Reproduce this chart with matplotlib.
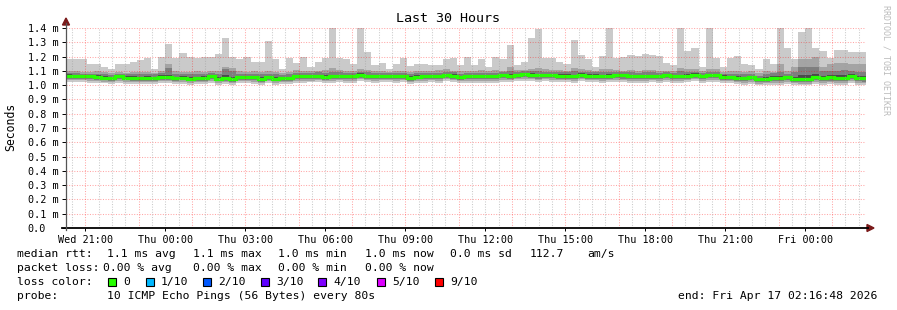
import datetime as dt
import numpy as np
import matplotlib
matplotlib.use("Agg")
import matplotlib.pyplot as plt
from matplotlib.patches import Polygon, Rectangle

W, H = 897, 310
MONO = "DejaVu Sans Mono"

# time frame of the graph
graph_start = dt.datetime(2026, 4, 15, 20, 16, 48)
graph_hours = 30
first_bin = dt.datetime(2026, 4, 15, 20, 16, 0)
step_minutes = 16

# smoke data (ms), 10 pings per step, sorted: min, p2, p3, p4, median, p7, p8, p9, max
rtt_max = [1.185, 1.185, 1.185, 1.15, 1.15, 1.13, 1.11, 1.145, 1.15, 1.165,
           1.175, 1.19, 1.115, 1.2, 1.285, 1.19, 1.225, 1.195, 1.19, 1.195,
           1.2, 1.22, 1.33, 1.195, 1.18, 1.195, 1.165, 1.165, 1.31, 1.185,
           1.11, 1.19, 1.155, 1.2, 1.13, 1.165, 1.19, 1.4, 1.19, 1.185,
           1.145, 1.4, 1.23, 1.138, 1.155, 1.11, 1.145, 1.19, 1.135, 1.15,
           1.15, 1.14, 1.14, 1.185, 1.19, 1.14, 1.2, 1.14, 1.18, 1.125,
           1.2, 1.185, 1.283, 1.14, 1.165, 1.33, 1.39, 1.19, 1.19, 1.165,
           1.15, 1.318, 1.21, 1.185, 1.125, 1.205, 1.4, 1.19, 1.2, 1.21,
           1.205, 1.22, 1.21, 1.205, 1.155, 1.14, 1.4, 1.238, 1.26, 1.125,
           1.4, 1.19, 1.125, 1.19, 1.205, 1.145, 1.14, 1.112, 1.185, 1.145,
           1.4, 1.26, 1.18, 1.37, 1.4, 1.26, 1.238, 1.19, 1.245, 1.245,
           1.23, 1.235, 1.235]
rtt_p9 = [1.10, 1.10, 1.095, 1.09, 1.10, 1.09, 1.085, 1.09, 1.085, 1.09,
          1.09, 1.095, 1.085, 1.10, 1.15, 1.10, 1.095, 1.095, 1.10, 1.095,
          1.10, 1.10, 1.13, 1.12, 1.10, 1.095, 1.10, 1.095, 1.10, 1.09,
          1.085, 1.09, 1.105, 1.10, 1.10, 1.10, 1.105, 1.12, 1.105, 1.10,
          1.10, 1.115, 1.105, 1.10, 1.10, 1.095, 1.10, 1.10, 1.09, 1.10,
          1.10, 1.10, 1.105, 1.11, 1.10, 1.10, 1.10, 1.10, 1.105, 1.10,
          1.105, 1.10, 1.13, 1.105, 1.105, 1.115, 1.12, 1.11, 1.105, 1.105,
          1.10, 1.12, 1.11, 1.105, 1.10, 1.11, 1.11, 1.105, 1.10, 1.105,
          1.10, 1.105, 1.105, 1.10, 1.10, 1.10, 1.12, 1.11, 1.11, 1.10,
          1.115, 1.11, 1.095, 1.10, 1.10, 1.095, 1.10, 1.085, 1.10, 1.095,
          1.145, 1.10, 1.125, 1.18, 1.18, 1.195, 1.13, 1.15, 1.155, 1.155,
          1.15, 1.15, 1.15]
rtt_p8 = [1.085, 1.085, 1.08, 1.08, 1.08, 1.075, 1.07, 1.08, 1.075, 1.075,
          1.075, 1.075, 1.075, 1.085, 1.12, 1.08, 1.08, 1.075, 1.075, 1.08,
          1.085, 1.075, 1.11, 1.10, 1.08, 1.08, 1.08, 1.075, 1.08, 1.075,
          1.07, 1.075, 1.085, 1.085, 1.085, 1.09, 1.085, 1.095, 1.09, 1.085,
          1.085, 1.095, 1.09, 1.085, 1.085, 1.085, 1.085, 1.085, 1.075, 1.085,
          1.085, 1.085, 1.085, 1.095, 1.09, 1.08, 1.085, 1.085, 1.085, 1.085,
          1.085, 1.09, 1.10, 1.095, 1.10, 1.10, 1.10, 1.095, 1.09, 1.09,
          1.09, 1.10, 1.095, 1.09, 1.09, 1.09, 1.095, 1.09, 1.09, 1.09,
          1.085, 1.09, 1.09, 1.085, 1.09, 1.085, 1.10, 1.09, 1.095, 1.085,
          1.095, 1.09, 1.08, 1.08, 1.075, 1.075, 1.08, 1.065, 1.075, 1.085,
          1.095, 1.08, 1.09, 1.125, 1.125, 1.125, 1.10, 1.10, 1.10, 1.105,
          1.10, 1.095, 1.095]
rtt_p7 = [1.078, 1.074, 1.072, 1.072, 1.068, 1.064, 1.060, 1.070, 1.062, 1.062,
          1.060, 1.062, 1.060, 1.068, 1.070, 1.060, 1.064, 1.056, 1.060, 1.062,
          1.072, 1.056, 1.068, 1.058, 1.064, 1.064, 1.066, 1.054, 1.066, 1.056,
          1.058, 1.058, 1.070, 1.072, 1.070, 1.074, 1.068, 1.072, 1.074, 1.072,
          1.072, 1.082, 1.074, 1.072, 1.072, 1.074, 1.072, 1.072, 1.062, 1.068,
          1.072, 1.072, 1.070, 1.080, 1.076, 1.066, 1.072, 1.070, 1.072, 1.070,
          1.072, 1.078, 1.078, 1.080, 1.086, 1.082, 1.080, 1.080, 1.078, 1.076,
          1.076, 1.074, 1.082, 1.076, 1.076, 1.074, 1.078, 1.078, 1.078, 1.074,
          1.074, 1.074, 1.074, 1.072, 1.078, 1.074, 1.074, 1.076, 1.082, 1.072,
          1.078, 1.078, 1.068, 1.066, 1.062, 1.060, 1.066, 1.052, 1.056, 1.062,
          1.064, 1.066, 1.058, 1.070, 1.072, 1.080, 1.066, 1.070, 1.068, 1.068,
          1.078, 1.066, 1.064]
rtt_median = [1.066, 1.063, 1.063, 1.061, 1.056, 1.051, 1.049, 1.061, 1.051, 1.051,
              1.049, 1.049, 1.049, 1.056, 1.056, 1.047, 1.051, 1.042, 1.047, 1.049,
              1.063, 1.042, 1.049, 1.040, 1.054, 1.054, 1.054, 1.040, 1.054, 1.042,
              1.047, 1.047, 1.061, 1.061, 1.061, 1.063, 1.056, 1.061, 1.063, 1.063,
              1.061, 1.072, 1.063, 1.063, 1.063, 1.063, 1.063, 1.063, 1.049, 1.058,
              1.061, 1.063, 1.061, 1.070, 1.065, 1.056, 1.061, 1.061, 1.061, 1.061,
              1.061, 1.068, 1.065, 1.070, 1.075, 1.070, 1.068, 1.070, 1.068, 1.065,
              1.065, 1.063, 1.072, 1.065, 1.065, 1.063, 1.065, 1.068, 1.068, 1.063,
              1.063, 1.063, 1.063, 1.063, 1.068, 1.063, 1.061, 1.065, 1.072, 1.061,
              1.068, 1.068, 1.056, 1.056, 1.051, 1.049, 1.056, 1.040, 1.042, 1.049,
              1.049, 1.054, 1.042, 1.042, 1.042, 1.056, 1.049, 1.054, 1.049, 1.049,
              1.061, 1.049, 1.047]
rtt_p4 = [1.056, 1.054, 1.054, 1.052, 1.046, 1.042, 1.040, 1.050, 1.042, 1.040,
          1.040, 1.040, 1.038, 1.046, 1.046, 1.038, 1.042, 1.034, 1.038, 1.040,
          1.052, 1.034, 1.040, 1.032, 1.044, 1.044, 1.044, 1.032, 1.044, 1.034,
          1.038, 1.038, 1.052, 1.050, 1.052, 1.054, 1.046, 1.052, 1.054, 1.052,
          1.052, 1.060, 1.054, 1.052, 1.054, 1.054, 1.052, 1.054, 1.040, 1.048,
          1.052, 1.054, 1.050, 1.060, 1.054, 1.046, 1.052, 1.050, 1.052, 1.050,
          1.052, 1.058, 1.054, 1.060, 1.064, 1.060, 1.056, 1.060, 1.058, 1.054,
          1.054, 1.052, 1.062, 1.054, 1.054, 1.052, 1.054, 1.058, 1.056, 1.052,
          1.052, 1.052, 1.054, 1.052, 1.058, 1.052, 1.050, 1.054, 1.062, 1.050,
          1.058, 1.058, 1.046, 1.046, 1.040, 1.038, 1.044, 1.030, 1.032, 1.038,
          1.038, 1.044, 1.032, 1.030, 1.030, 1.044, 1.036, 1.042, 1.036, 1.036,
          1.050, 1.036, 1.034]
rtt_p3 = [1.045, 1.045, 1.044, 1.042, 1.038, 1.034, 1.032, 1.040, 1.034, 1.032,
          1.032, 1.032, 1.030, 1.036, 1.038, 1.030, 1.034, 1.026, 1.030, 1.032,
          1.042, 1.028, 1.032, 1.024, 1.036, 1.036, 1.034, 1.024, 1.036, 1.026,
          1.030, 1.030, 1.042, 1.040, 1.042, 1.044, 1.038, 1.042, 1.044, 1.042,
          1.042, 1.050, 1.044, 1.042, 1.044, 1.044, 1.042, 1.044, 1.032, 1.040,
          1.042, 1.044, 1.040, 1.050, 1.044, 1.038, 1.042, 1.040, 1.042, 1.040,
          1.042, 1.048, 1.044, 1.050, 1.054, 1.050, 1.046, 1.050, 1.048, 1.044,
          1.044, 1.042, 1.052, 1.044, 1.044, 1.042, 1.044, 1.048, 1.046, 1.042,
          1.042, 1.042, 1.044, 1.042, 1.048, 1.042, 1.040, 1.044, 1.052, 1.040,
          1.048, 1.048, 1.036, 1.036, 1.030, 1.028, 1.034, 1.020, 1.022, 1.028,
          1.028, 1.034, 1.022, 1.020, 1.020, 1.034, 1.026, 1.032, 1.026, 1.026,
          1.040, 1.026, 1.024]
rtt_p2 = [1.034, 1.034, 1.034, 1.030, 1.028, 1.024, 1.022, 1.030, 1.024, 1.022,
          1.020, 1.022, 1.020, 1.026, 1.028, 1.020, 1.024, 1.016, 1.020, 1.022,
          1.032, 1.018, 1.022, 1.014, 1.026, 1.026, 1.024, 1.014, 1.026, 1.016,
          1.020, 1.020, 1.032, 1.030, 1.032, 1.034, 1.028, 1.032, 1.034, 1.032,
          1.032, 1.040, 1.034, 1.032, 1.034, 1.034, 1.032, 1.034, 1.022, 1.030,
          1.032, 1.034, 1.030, 1.040, 1.034, 1.028, 1.032, 1.030, 1.032, 1.030,
          1.032, 1.038, 1.034, 1.040, 1.044, 1.040, 1.036, 1.040, 1.038, 1.034,
          1.034, 1.032, 1.042, 1.034, 1.034, 1.032, 1.034, 1.038, 1.036, 1.032,
          1.032, 1.032, 1.034, 1.032, 1.038, 1.032, 1.030, 1.034, 1.042, 1.030,
          1.038, 1.038, 1.026, 1.026, 1.020, 1.018, 1.024, 1.010, 1.012, 1.018,
          1.018, 1.024, 1.012, 1.010, 1.010, 1.024, 1.016, 1.022, 1.016, 1.016,
          1.030, 1.016, 1.014]
rtt_min = [1.020, 1.022, 1.020, 1.018, 1.014, 1.012, 1.008, 1.016, 1.010, 1.010,
           1.008, 1.010, 1.006, 1.012, 1.014, 1.006, 1.010, 1.002, 1.006, 1.008,
           1.018, 1.004, 1.008, 1.002, 1.012, 1.012, 1.010, 1.002, 1.012, 1.004,
           1.006, 1.006, 1.018, 1.016, 1.020, 1.020, 1.014, 1.018, 1.020, 1.018,
           1.018, 1.026, 1.020, 1.018, 1.020, 1.020, 1.018, 1.020, 1.008, 1.016,
           1.018, 1.020, 1.016, 1.026, 1.020, 1.014, 1.018, 1.016, 1.018, 1.016,
           1.018, 1.024, 1.020, 1.026, 1.030, 1.026, 1.022, 1.026, 1.024, 1.020,
           1.020, 1.018, 1.028, 1.020, 1.020, 1.018, 1.020, 1.024, 1.022, 1.018,
           1.018, 1.018, 1.020, 1.018, 1.024, 1.018, 1.016, 1.020, 1.028, 1.016,
           1.024, 1.024, 1.012, 1.012, 1.006, 1.004, 1.010, 0.998, 1.000, 1.004,
           1.004, 1.010, 1.000, 0.998, 0.998, 1.010, 1.002, 1.008, 1.002, 1.000,
           1.016, 1.002, 0.998]

y_ticks = [0.0, 0.1, 0.2, 0.3, 0.4, 0.5, 0.6, 0.7, 0.8, 0.9, 1.0, 1.1, 1.2, 1.3, 1.4]

legend_rtt = ["median rtt:", "1.1 ms avg", "1.1 ms max", "1.0 ms min", "1.0 ms now",
              "0.0 ms sd", "112.7", "am/s"]
legend_loss = ["packet loss:", "0.00 % avg", "0.00 % max", "0.00 % min", "0.00 % now"]
loss_labels = ["0", "1/10", "2/10", "3/10", "4/10", "5/10", "9/10"]
loss_colors = ["#26ff00", "#00b8ff", "#0059ff", "#5e00ff", "#7e00ff", "#dd00ff", "#ff0000"]
probe_text = "10 ICMP Echo Pings (56 Bytes) every 80s"
end_text = "end: Fri Apr 17 02:16:48 2026"

# ---------------------------------------------------------------
fig = plt.figure(figsize=(W / 100, H / 100), dpi=100)
fig.patch.set_facecolor("white")


def fx(x):
    return x / W


def fy(y):
    return 1 - y / H


ax = fig.add_axes([fx(66), fy(228), 800 / W, 200 / H])
ax.set_xlim(0, graph_hours)
ax.set_ylim(0, 1.4)
for s in ax.spines.values():
    s.set_visible(False)

offset_h = (first_bin - graph_start).total_seconds() / 3600
edges = offset_h + np.arange(len(rtt_median) + 1) * step_minutes / 60

smoke = [
    (rtt_min, rtt_max, "#cacaca"),
    (rtt_p2, rtt_p9, "#a4a4a4"),
    (rtt_p3, rtt_p8, "#7e7e7e"),
    (rtt_p4, rtt_p7, "#4a4a4a"),
]
for lo, hi, col in smoke:
    ax.stairs(hi, edges, baseline=lo, fill=True, color=col, lw=0, zorder=2)

ax.stairs(rtt_median, edges, baseline=None, color=loss_colors[0], lw=2.3, zorder=3)

# grid (rrdtool draws it on top)
dots = (0, (1, 1.5))
for v in y_ticks[1:]:
    ax.axhline(v, color="#ff0000", alpha=0.35, lw=0.75, ls=dots, zorder=5)

t = graph_start.replace(minute=30, second=0)
while t < graph_start + dt.timedelta(hours=graph_hours):
    h = (t - graph_start).total_seconds() / 3600
    if h > 0:
        if t.minute == 0 and t.hour % 2 == 1:
            ax.axvline(h, color="#ff0000", alpha=0.35, lw=0.75, ls=dots, zorder=5)
        else:
            ax.axvline(h, color="#a0a0a0", alpha=0.55, lw=0.75, ls=dots, zorder=5)
    t += dt.timedelta(minutes=30)

# x labels every 3 hours
xt, xl = [], []
t = graph_start.replace(minute=0, second=0) + dt.timedelta(hours=1)
while t < graph_start + dt.timedelta(hours=graph_hours):
    if t.hour % 3 == 0:
        xt.append((t - graph_start).total_seconds() / 3600)
        xl.append(t.strftime("%a %H:%M"))
    t += dt.timedelta(hours=1)
ax.set_xticks(xt)
ax.set_xticklabels(xl, fontfamily=MONO, fontsize=7.3)
ax.tick_params(axis="x", length=2.5, width=0.7, pad=2.5, colors="black")

ax.set_yticks(y_ticks)
ax.set_yticklabels([f"{v:.1f} m" if v > 0 else "0.0" for v in y_ticks],
                   fontfamily=MONO, fontsize=7.3, ha="left")
ax.tick_params(axis="y", length=3, width=0.7, pad=24.5, colors="black")

# axes lines with arrows
fig.add_artist(plt.Line2D([fx(62), fx(868)], [fy(228), fy(228)], color="black", lw=1.3))
fig.add_artist(plt.Line2D([fx(66), fx(66)], [fy(230), fy(23)], color="#555555", lw=0.9))
fig.add_artist(Polygon([[fx(66), fy(18)], [fx(62.5), fy(25)], [fx(69.5), fy(25)]],
                       closed=True, color="#7a1a1a", transform=fig.transFigure))
fig.add_artist(Polygon([[fx(874), fy(228)], [fx(867), fy(224.5)], [fx(867), fy(231.5)]],
                       closed=True, color="#7a1a1a", transform=fig.transFigure))

fig.text(fx(448), fy(19), "Last 30 Hours", fontfamily=MONO, fontsize=9.6,
         ha="center", va="center")
fig.text(fx(11), fy(127), "Seconds", fontfamily=MONO, fontsize=8.3, rotation=90,
         ha="center", va="center")
fig.text(fx(886), fy(60), "RRDTOOL / TOBI OETIKER", fontfamily=MONO, fontsize=6,
         rotation=270, color="#bbbbbb", ha="center", va="center")

# legend lines
fs = 8.2
rtt_x = [17, 107, 193, 278, 365, 450, 530, 587]
for s, x in zip(legend_rtt, rtt_x):
    fig.text(fx(x), fy(254), s, fontfamily=MONO, fontsize=fs, va="center")
loss_x = [17, 103, 193, 278, 365]
for s, x in zip(legend_loss, loss_x):
    fig.text(fx(x), fy(268), s, fontfamily=MONO, fontsize=fs, va="center")

fig.text(fx(17), fy(282), "loss color:", fontfamily=MONO, fontsize=fs, va="center")
box_x = [108, 146, 203, 261, 318, 377, 435]
for lab, col, x in zip(loss_labels, loss_colors, box_x):
    fig.add_artist(Rectangle((fx(x), fy(285.5)), 8 / W, 8 / H, facecolor=col,
                             edgecolor="black", lw=0.8, transform=fig.transFigure))
    fig.text(fx(x + 15), fy(282), lab, fontfamily=MONO, fontsize=fs, va="center")

fig.text(fx(17), fy(296), "probe:", fontfamily=MONO, fontsize=fs, va="center")
fig.text(fx(107), fy(296), probe_text, fontfamily=MONO, fontsize=fs, va="center")
fig.text(fx(678), fy(296), end_text, fontfamily=MONO, fontsize=fs, va="center")

fig.savefig("out.png", dpi=100, facecolor="white")
